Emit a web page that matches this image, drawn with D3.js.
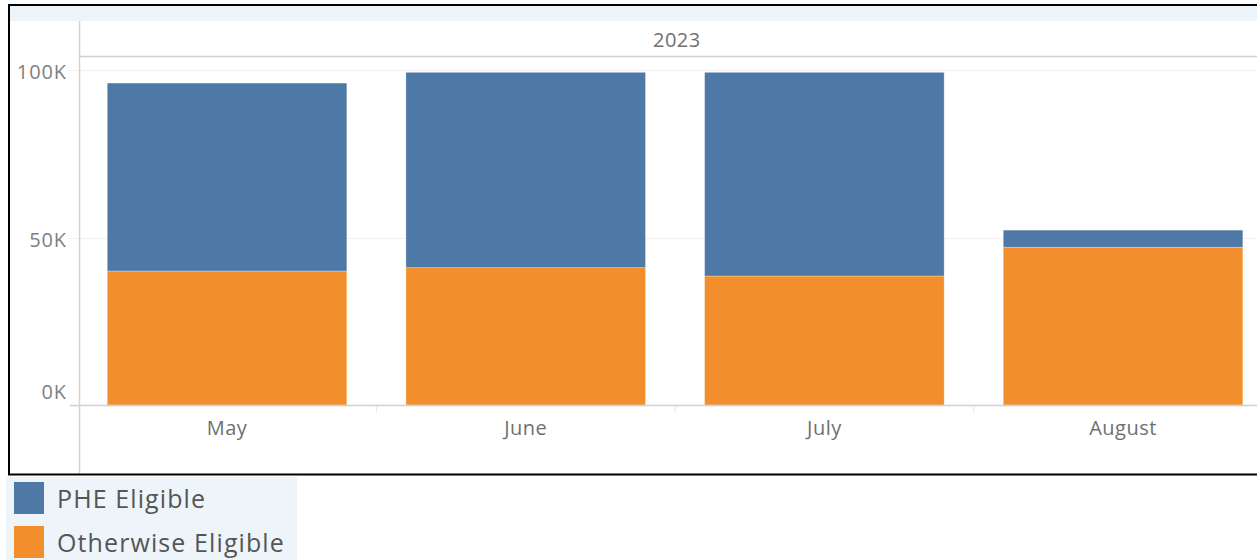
<!DOCTYPE html>
<html>
<head>
<meta charset="utf-8">
<script src="https://cdn.jsdelivr.net/npm/d3@7"></script>
<style>
    html, body { margin: 0; padding: 0; background: #fff; }
    svg { display: block; font-family: "Open Sans", sans-serif; }
</style>
</head>
<body>
<div id="chart"></div>
<script>
// Data
const months = ["May", "June", "July", "August"];
const otherwiseEligible = [40000, 41000, 38500, 47100];
const pheEligible = [56100, 58300, 60800, 5100];
const yTicks = [0, 50000, 100000];
const yearLabel = "2023";
const seriesNames = ["Otherwise Eligible", "PHE Eligible"];
const legendOrder = ["PHE Eligible", "Otherwise Eligible"];

const width = 1257;
const height = 560;

const color = d3.scaleOrdinal()
    .domain(["PHE Eligible", "Otherwise Eligible"])
    .range(["#4e79a7", "#f28e2b"]);

const rows = months.map((m, i) => ({
    month: m,
    "Otherwise Eligible": otherwiseEligible[i],
    "PHE Eligible": pheEligible[i]
}));

const svg = d3.select("#chart").append("svg")
    .attr("width", width)
    .attr("height", height);

// Light strip across the top of the frame
svg.append("rect")
    .attr("x", 9).attr("y", 6)
    .attr("width", width).attr("height", 15)
    .attr("fill", "#edf5fa");

const axisX = 79.5;
const step = 298.67;
const x = d3.scaleBand()
    .domain(months)
    .range([axisX, axisX + step * (4 - 0.198 + 2 * 0.093)])
    .paddingInner(0.198)
    .paddingOuter(0.093);

const y = d3.scaleLinear()
    .domain([0, 100000])
    .range([405, 70]);

// Gridlines + short ticks left of the axis
svg.append("g")
    .selectAll("line")
    .data(yTicks.filter(d => d > 0))
    .join("line")
    .attr("x1", 70).attr("x2", width)
    .attr("y1", d => Math.round(y(d)) + 0.5)
    .attr("y2", d => Math.round(y(d)) + 0.5)
    .attr("stroke", "#f0f0f0")
    .attr("stroke-width", 1);

// Year header line
svg.append("line")
    .attr("x1", axisX).attr("x2", width)
    .attr("y1", 56.5).attr("y2", 56.5)
    .attr("stroke", "#cfcfcf")
    .attr("stroke-width", 1.5);

svg.append("text")
    .attr("x", axisX + 2 * step)
    .attr("y", 40)
    .attr("dy", "0.35em")
    .attr("text-anchor", "middle")
    .attr("fill", "#707070")
    .style("font-size", "20px")
    .style("letter-spacing", "0.5px")
    .text(yearLabel);

// Stacked bars
const stack = d3.stack().keys(seriesNames);
const layers = stack(rows);

svg.append("g")
    .selectAll("g")
    .data(layers)
    .join("g")
    .attr("fill", d => color(d.key))
    .selectAll("rect")
    .data(d => d)
    .join("rect")
    .attr("x", d => x(d.data.month))
    .attr("width", x.bandwidth())
    .attr("y", d => y(d[1]))
    .attr("height", d => y(d[0]) - y(d[1]))
    .attr("stroke", "rgba(255,255,255,0.35)")
    .attr("stroke-width", 0.8);

// Zero line
svg.append("line")
    .attr("x1", 70).attr("x2", width)
    .attr("y1", 405.5).attr("y2", 405.5)
    .attr("stroke", "#d0d0d0")
    .attr("stroke-width", 1.5);

// Vertical axis line
svg.append("line")
    .attr("x1", axisX).attr("x2", axisX)
    .attr("y1", 21).attr("y2", 475)
    .attr("stroke", "#d4d4d4")
    .attr("stroke-width", 1.5);

// Category separators under the baseline
svg.append("g")
    .selectAll("line")
    .data(months.slice(1))
    .join("line")
    .attr("x1", d => x(d) - x.step() * x.paddingInner() / 2)
    .attr("x2", d => x(d) - x.step() * x.paddingInner() / 2)
    .attr("y1", 406).attr("y2", 413)
    .attr("stroke", "#e6e6e6")
    .attr("stroke-width", 1);

// Y tick labels (0K nudged up into the pane like Tableau does)
svg.append("g")
    .selectAll("text")
    .data(yTicks)
    .join("text")
    .attr("x", 67)
    .attr("y", d => y(d) + (d === 0 ? -13 : 2))
    .attr("dy", "0.35em")
    .attr("text-anchor", "end")
    .attr("fill", "#808080")
    .style("font-size", "20px")
    .style("letter-spacing", "0.9px")
    .text(d => d3.format("d")(d / 1000) + "K");

// Month labels
svg.append("g")
    .selectAll("text")
    .data(months)
    .join("text")
    .attr("x", d => x(d) + x.bandwidth() / 2)
    .attr("y", 428)
    .attr("dy", "0.35em")
    .attr("text-anchor", "middle")
    .attr("fill", "#707070")
    .style("font-size", "20px")
    .style("letter-spacing", "0.5px")
    .text(d => d);

// Outer black border (right edge runs off the picture)
svg.append("path")
    .attr("d", `M${width + 5},5 H9 V474.5 H${width + 5}`)
    .attr("fill", "none")
    .attr("stroke", "#000")
    .attr("stroke-width", 2);

// Legend
const legend = svg.append("g");
legend.append("rect")
    .attr("x", 6).attr("y", 477)
    .attr("width", 291).attr("height", 83)
    .attr("fill", "#edf5fa");

const items = legend.selectAll(".legend-item")
    .data(legendOrder)
    .join("g")
    .attr("class", "legend-item")
    .attr("transform", (d, i) => `translate(14, ${482 + i * 44})`);

items.append("rect")
    .attr("width", 30)
    .attr("height", 32)
    .attr("fill", d => color(d));

items.append("text")
    .attr("x", 43)
    .attr("y", 17)
    .attr("dy", "0.35em")
    .attr("fill", "#555")
    .style("font-size", "25px")
    .style("letter-spacing", "1.1px")
    .text(d => d);
</script>
</body>
</html>
